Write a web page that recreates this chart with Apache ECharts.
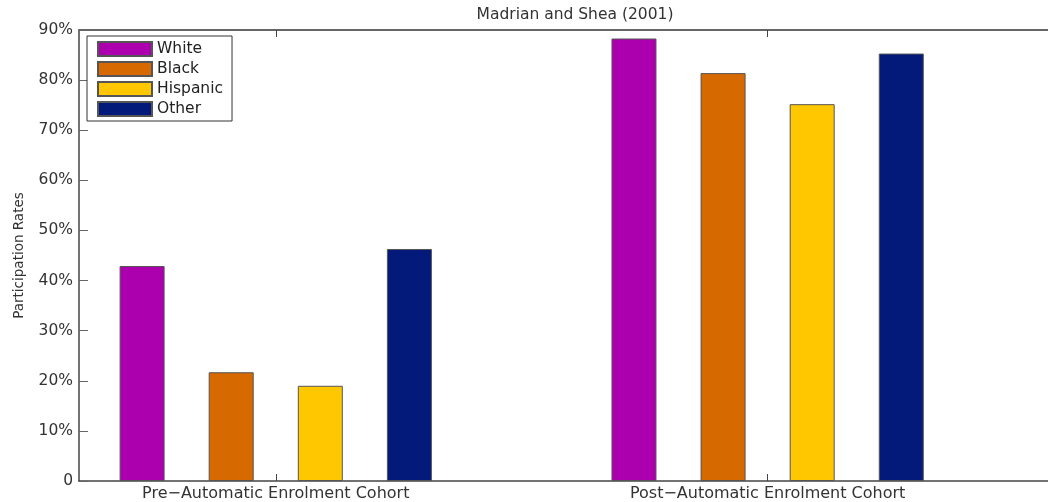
<!DOCTYPE html>
<html><head><meta charset="utf-8">
<script src="https://cdn.jsdelivr.net/npm/echarts@6/dist/echarts.min.js"></script>
<style>html,body{margin:0;padding:0;background:#fff}#c{width:1048px;height:502px}</style>
</head><body><div id="c"></div>
<script>
const categories = ['Pre\u2212Automatic Enrolment Cohort', 'Post\u2212Automatic Enrolment Cohort'];
const seriesNames = ['White', 'Black', 'Hispanic', 'Other'];
const white = [42.9, 88.3];
const black = [21.7, 81.4];
const hispanic = [19.0, 75.2];
const other = [46.3, 85.3];
const yTicks = [0, 10, 20, 30, 40, 50, 60, 70, 80, 90];
const colors = ['#AC00AE', '#D66A00', '#FFC700', '#031A7A'];
const values = [white, black, hispanic, other];

const font = '"DejaVu Sans", Verdana, sans-serif';
const chart = echarts.init(document.getElementById('c'));
chart.setOption({
  animation: false,
  title: { text: 'Madrian and Shea (2001)', left: 570, textAlign: 'center', top: 2,
    textStyle: { fontFamily: font, fontSize: 15.5, fontWeight: 'normal', color: '#333' } },
  legend: {
    orient: 'vertical', left: 87, top: 36, itemWidth: 54, itemHeight: 14, itemGap: 4,
    padding: [5, 9, 4, 10], borderColor: '#333', borderWidth: 1, backgroundColor: '#fff',
    icon: 'rect',
    textStyle: { fontFamily: font, fontSize: 15.5, lineHeight: 14, color: '#222' },
    data: seriesNames
  },
  grid: { left: 79, right: 0, top: 30, bottom: 21, containLabel: false },
  xAxis: [{
    type: 'value', min: 0.6, max: 2.57, position: 'bottom',
    splitLine: { show: false },
    axisLine: { show: true, onZero: false, lineStyle: { color: '#444', width: 1.5 } },
    axisTick: { show: true, inside: true, length: 7, customValues: [1, 2], lineStyle: { color: '#444' } },
    axisLabel: { customValues: [1, 2], formatter: v => categories[Math.round(v) - 1],
      fontFamily: font, fontSize: 16, color: '#333', margin: 5 }
  }, {
    type: 'value', min: 0.6, max: 2.57, position: 'top',
    splitLine: { show: false },
    axisLine: { show: true, onZero: false, lineStyle: { color: '#666', width: 2 } },
    axisTick: { show: true, inside: true, length: 7, customValues: [1, 2], lineStyle: { color: '#444' } },
    axisLabel: { show: false }
  }],
  yAxis: {
    type: 'value', min: 0, max: 90, interval: 10,
    name: 'Participation Rates', nameLocation: 'middle', nameGap: 53,
    nameTextStyle: { fontFamily: font, fontSize: 13.5, color: '#333' },
    splitLine: { show: false },
    axisLine: { show: true, lineStyle: { color: '#444', width: 1.5 } },
    axisTick: { show: true, inside: true, length: 9, lineStyle: { color: '#666' } },
    axisLabel: { fontFamily: font, fontSize: 15.5, color: '#333', margin: 6,
      formatter: v => (yTicks.includes(v) ? (v === 0 ? '0' : v + '%') : '') }
  },
  series: seriesNames.map((n, i) => ({
    name: n, type: 'bar', xAxisIndex: 0,
    barWidth: 45, barGap: '98%',
    itemStyle: { color: colors[i], borderColor: '#555', borderWidth: 1 },
    data: values[i].map((v, j) => [j + 1, v])
  }))
});
</script></body></html>
